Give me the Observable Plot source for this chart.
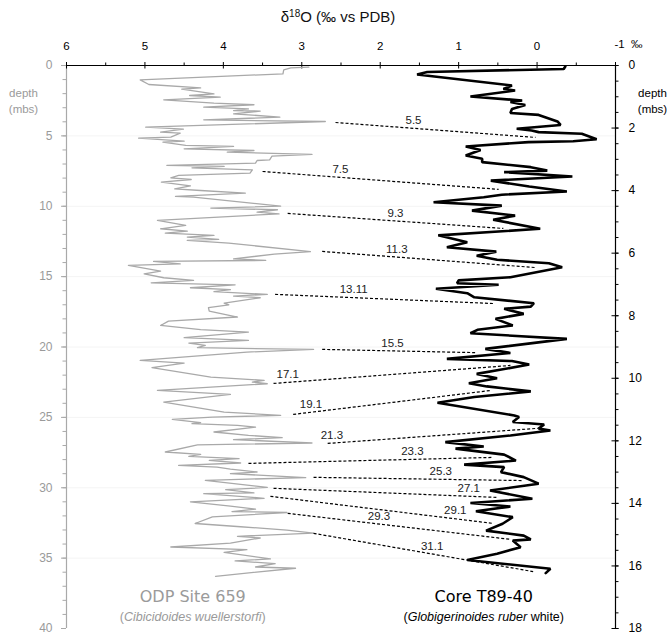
<!DOCTYPE html>
<html><head><meta charset="utf-8">
<script src="https://cdn.jsdelivr.net/npm/d3@7"></script>
<script src="https://cdn.jsdelivr.net/npm/@observablehq/plot@0.6"></script>
<style>
body{margin:0;background:#fff;font-family:"Liberation Sans",Arial,sans-serif;}
#title{height:30px;width:668px;text-align:center;font-size:15px;line-height:16px;padding-top:9px;box-sizing:border-box;padding-left:8px;color:#111;}
#title .sup{font-size:10px;position:relative;top:-5px;}
</style></head><body>
<div id="title">δ<span class="sup">18</span>O (‰ vs PDB)</div>
<div id="chart"></div>
<script>
// ODP Site 659 (grey) — depth in mbs (left scale), δ18O ‰
const greyDepth = [0.12,0.17,0.31,0.59,1.02,1.35,1.59,1.68,2.01,2.13,2.25,2.44,2.67,2.79,2.96,3.08,3.20,3.24,3.43,3.67,3.86,3.98,4.38,4.52,4.73,4.81,5.09,5.16,5.37,5.45,5.68,5.75,5.92,6.04,6.16,6.32,6.44,6.70,6.75,6.94,7.10,7.17,7.27,7.41,7.65,7.81,7.98,8.10,8.29,8.55,8.76,8.88,9.07,9.30,9.35,9.99,10.13,10.25,10.42,10.54,11.01,11.36,11.60,11.77,11.91,12.07,12.19,12.36,12.43,12.62,13.22,13.40,13.74,13.85,13.92,14.09,14.20,14.61,14.80,15.08,15.27,15.44,15.58,15.79,15.93,16.07,16.26,16.38,16.50,16.88,17.00,17.21,17.45,17.87,18.16,18.47,18.77,18.94,19.34,19.53,19.72,19.89,20.05,20.17,20.36,20.95,21.14,21.47,22.14,22.37,22.49,22.61,23.08,23.37,23.91,24.62,24.86,24.98,25.14,25.38,25.45,25.57,25.69,26.04,26.28,26.44,26.58,26.82,26.96,27.46,27.63,27.77,27.93,28.05,28.24,28.41,28.53,28.67,28.88,29.00,29.28,29.47,29.98,30.14,30.37,30.42,30.75,31.00,31.31,31.52,31.69,31.76,32.07,32.54,32.77,33.01,33.22,33.45,33.57,33.93,34.21,34.40,34.59,35.05,35.20,35.39,35.63,35.72,36.29];
const greyValue = [2.91,3.14,3.23,3.24,5.06,4.95,4.29,4.53,4.12,4.43,4.04,4.76,4.12,3.61,4.25,3.68,3.87,3.53,3.87,3.28,4.25,2.70,4.99,4.51,4.80,4.55,4.67,5.08,4.50,4.77,4.48,3.87,4.50,3.61,3.95,2.87,3.38,3.41,3.57,3.59,4.72,3.99,4.40,3.63,3.66,4.57,4.67,4.41,4.79,4.42,4.62,4.29,3.72,4.61,4.38,3.27,4.16,3.31,3.57,3.29,4.84,4.48,4.80,4.46,4.74,4.12,4.46,4.06,4.46,3.93,2.89,3.35,3.87,3.46,4.89,4.55,5.21,4.80,5.01,4.76,4.38,4.92,3.85,4.42,3.91,4.12,3.44,3.87,3.53,3.99,3.93,4.19,4.18,3.82,4.70,4.80,4.29,3.68,4.50,3.68,4.44,4.23,4.33,2.85,3.70,5.06,4.50,4.91,4.16,3.48,3.63,3.44,4.84,3.91,4.76,3.99,3.27,4.14,4.65,4.29,4.40,3.82,3.59,4.12,3.68,3.25,3.87,2.87,4.33,4.74,4.29,4.44,3.80,4.18,3.78,4.57,4.08,3.91,3.57,3.91,2.95,4.23,3.44,3.97,3.61,4.25,3.48,4.42,3.91,3.59,3.89,3.19,4.14,4.36,3.78,3.19,2.85,3.82,3.53,3.91,4.67,3.70,3.99,3.40,3.85,3.34,3.59,3.08,4.10];

// Core T89-40 (black) — depth in mbs (right scale), δ18O ‰
const blackDepth = [0.03,0.11,0.21,0.29,0.64,0.75,0.80,0.99,1.12,1.17,1.26,1.39,1.52,1.58,1.79,1.90,2.02,2.08,2.13,2.18,2.36,2.42,2.45,2.59,2.70,2.88,2.98,3.09,3.25,3.36,3.41,3.55,3.68,3.87,4.03,4.13,4.21,4.37,4.48,4.64,4.80,4.93,5.22,5.43,5.65,5.81,5.95,6.08,6.21,6.32,6.45,6.77,6.87,6.96,7.01,7.14,7.28,7.41,7.60,7.71,7.78,7.94,8.10,8.31,8.45,8.56,8.74,9.06,9.19,9.38,9.45,9.56,9.86,10.00,10.16,10.26,10.42,10.60,10.78,11.19,11.24,11.40,11.48,11.61,11.67,11.83,12.04,12.18,12.25,12.44,12.63,12.76,12.84,13.00,13.16,13.37,13.59,13.85,13.99,14.10,14.25,14.44,14.65,14.87,15.03,15.15,15.19,15.40,15.61,15.81,16.09,16.23];
const blackValue = [-0.36,-0.34,1.40,1.53,0.32,0.43,0.28,0.85,0.19,0.34,0.15,0.32,0.34,-0.02,-0.26,-0.30,0.26,0.07,-0.02,-0.57,-0.76,-0.46,0.11,0.91,0.72,0.91,0.70,0.70,0.08,-0.13,0.42,-0.45,0.59,0.10,-0.38,0.45,0.68,1.32,0.45,0.83,0.28,0.56,-0.04,1.26,0.89,1.15,0.52,0.77,0.51,-0.15,-0.32,0.34,1.00,1.02,0.49,1.29,0.89,0.80,0.04,0.08,0.42,0.17,0.53,0.31,0.76,0.85,-0.38,0.66,0.34,1.15,0.32,0.10,0.77,0.51,0.87,0.64,0.08,0.80,1.27,0.29,0.23,0.31,-0.09,-0.02,-0.17,0.34,1.17,0.68,1.04,0.42,0.27,0.93,0.42,0.46,0.17,-0.02,0.60,0.06,0.85,0.34,0.78,0.31,0.44,0.65,0.17,0.08,0.31,0.21,0.51,0.89,-0.17,-0.11];

// Tie points (ages, ka)
const ages = ["5.5","7.5","9.3","11.3","13.11","15.5","17.1","19.1","21.3","23.3","25.3","27.1","29.1","29.3","31.1"];
const tieGreyDepth = [4.05,7.53,10.51,13.21,16.26,20.17,22.59,24.79,26.85,28.27,29.26,30.04,30.61,31.82,33.24];
const tieGreyValue = [2.57,3.50,3.18,2.74,3.34,2.74,3.36,3.11,2.67,3.68,2.85,3.36,3.40,3.18,2.85];
const tieBlackDepth = [2.30,3.96,5.21,6.46,7.61,9.18,9.59,10.39,11.60,12.53,13.27,13.81,14.64,15.15,16.18];
const tieBlackValue = [0.02,0.49,0.43,0.02,0.56,0.79,0.34,0.59,-0.01,0.56,0.19,0.50,0.56,0.34,0.05];
const ageLabelFrac = [0.39,0.33,0.5,0.35,0.36,0.46,0.06,0.09,0.02,0.67,0.61,0.87,0.83,0.41,0.54];

// Axes ticks
const topTicks = [6,5,4,3,2,1,0,-1];
const leftTicks = [0,5,10,15,20,25,30,35,40];
const rightTicks = [0,2,4,6,8,10,12,14,16,18];

const R = 40/18;           // right depth scale → left depth scale
const PY = 1/14.075;       // depth units per pixel
const PX = 1/78.43;        // δ18O units per pixel
const GREY = "#a9a9a9";

const greyIdx = d3.range(greyDepth.length);
const blackIdx = d3.range(blackDepth.length);
const ties = ages.map((a,i)=>({age:a, x1:tieGreyValue[i], y1:tieGreyDepth[i], x2:tieBlackValue[i], y2:tieBlackDepth[i]*R, t:ageLabelFrac[i]}));

const chart = Plot.plot({
  width: 668, height: 604,
  marginTop: 35, marginBottom: 6, marginLeft: 66, marginRight: 53,
  x: {domain: [6, -1]},
  y: {domain: [0, 40], reverse: true},
  style: {fontFamily: '"Liberation Sans", Arial, sans-serif', fontSize: "11.5px", background: "#fff", overflow: "visible"},
  marks: [
    Plot.ruleY(leftTicks.filter(d => d > 0 && d < 40), {stroke: "#f4f4f4"}),
    // left axis
    Plot.ruleX([6], {stroke: GREY, strokeWidth: 1.2}),
    Plot.ruleY(d3.range(0, 41), {x1: 6, x2: 6 + 3.5*PX, stroke: GREY}),
    Plot.ruleY(leftTicks, {x1: 6, x2: 6 + 5*PX, stroke: GREY}),
    Plot.axisY(leftTicks, {anchor: "left", tickSize: 0, tickPadding: 14, fill: "#9a9a9a", fontSize: 12, label: null, tickFormat: d => String(d)}),
    // right axis
    Plot.ruleX([-1], {stroke: "#000", strokeWidth: 1.2}),
    Plot.ruleY(d3.range(0, 18.01, 0.5).map(d => d*R), {x1: -1, x2: -1 - 3.5*PX, stroke: "#000"}),
    Plot.ruleY(rightTicks.map(d => d*R), {x1: -1 + 3.5*PX, x2: -1 - 3.5*PX, stroke: "#000"}),
    Plot.axisY(rightTicks.map(d => d*R), {anchor: "right", tickSize: 0, tickPadding: 13, fill: "#000", fontSize: 12, label: null, tickFormat: d => String(Math.round(d/R))}),
    // top axis
    Plot.ruleY([0], {stroke: "#000", strokeWidth: 1.2}),
    Plot.ruleX(topTicks, {y1: -3*PY, y2: 3.5*PY, stroke: "#000"}),
    Plot.ruleX(topTicks.slice(0, -1).map(d => d - 0.5), {y1: -2.5*PY, y2: 0, stroke: "#000"}),
    Plot.axisX(topTicks.slice(0, -1), {anchor: "top", tickSize: 0, tickPadding: 16, fontSize: 11.5, label: null, tickFormat: d => String(d)}),
    Plot.text([String(topTicks[topTicks.length - 1]) + "  ‰"], {x: topTicks[topTicks.length - 1], y: 0, dx: -1, dy: -21.5, textAnchor: "start", fontSize: 11.5, fill: "#000"}),
    // depth unit labels
    Plot.text(["depth", "(mbs)"], {x: 6, y: (d, i) => [1.99, 3.1][i], dx: -43, fontSize: 11.5, fill: "#9a9a9a"}),
    Plot.text(["depth", "(mbs)"], {x: -1, y: (d, i) => [1.99, 3.1][i], dx: 37, fontSize: 11.5, fill: "#000"}),
    // series
    Plot.line(greyIdx, {x: i => greyValue[i], y: i => greyDepth[i], stroke: GREY, strokeWidth: 1.3}),
    Plot.line(blackIdx, {x: i => blackValue[i], y: i => blackDepth[i]*R, stroke: "#000", strokeWidth: 2.6, strokeLinejoin: "miter"}),
    // tie lines
    Plot.link(ties, {x1: "x1", y1: "y1", x2: "x2", y2: "y2", stroke: "#000", strokeWidth: 1.2, strokeDasharray: "3,2"}),
    Plot.text(ties, {x: d => d.x1 + d.t*(d.x2 - d.x1), y: d => d.y1 + d.t*(d.y2 - d.y1), dy: -8, text: "age", fontSize: 11.5, fill: "#222"}),
    // site labels
    Plot.text(["ODP Site 659"], {x: 4.39, y: 37.73, fontSize: 16, fill: "#9a9a9a", fontFamily: '"DejaVu Sans", sans-serif'}),
    Plot.text(["(Cibicidoides wuellerstorfi)"], {x: 4.39, y: 39.15, fontSize: 12.5, fill: "#9a9a9a"}),
    Plot.text(["Core T89-40"], {x: 0.68, y: 37.73, fontSize: 16, fill: "#000", fontFamily: '"DejaVu Sans", sans-serif'}),
    Plot.text(["(Globigerinoides ruber white)"], {x: 0.68, y: 39.15, fontSize: 12.5, fill: "#000"})
  ]
});
document.getElementById("chart").appendChild(chart);

// italic species names
d3.select(chart).selectAll("text").each(function() {
  const t = this.textContent;
  if (t === "(Cibicidoides wuellerstorfi)") {
    this.innerHTML = '(<tspan font-style="italic">Cibicidoides wuellerstorfi</tspan>)';
  } else if (t === "(Globigerinoides ruber white)") {
    this.innerHTML = '(<tspan font-style="italic">Globigerinoides ruber</tspan> white)';
  }
});
</script></body></html>
